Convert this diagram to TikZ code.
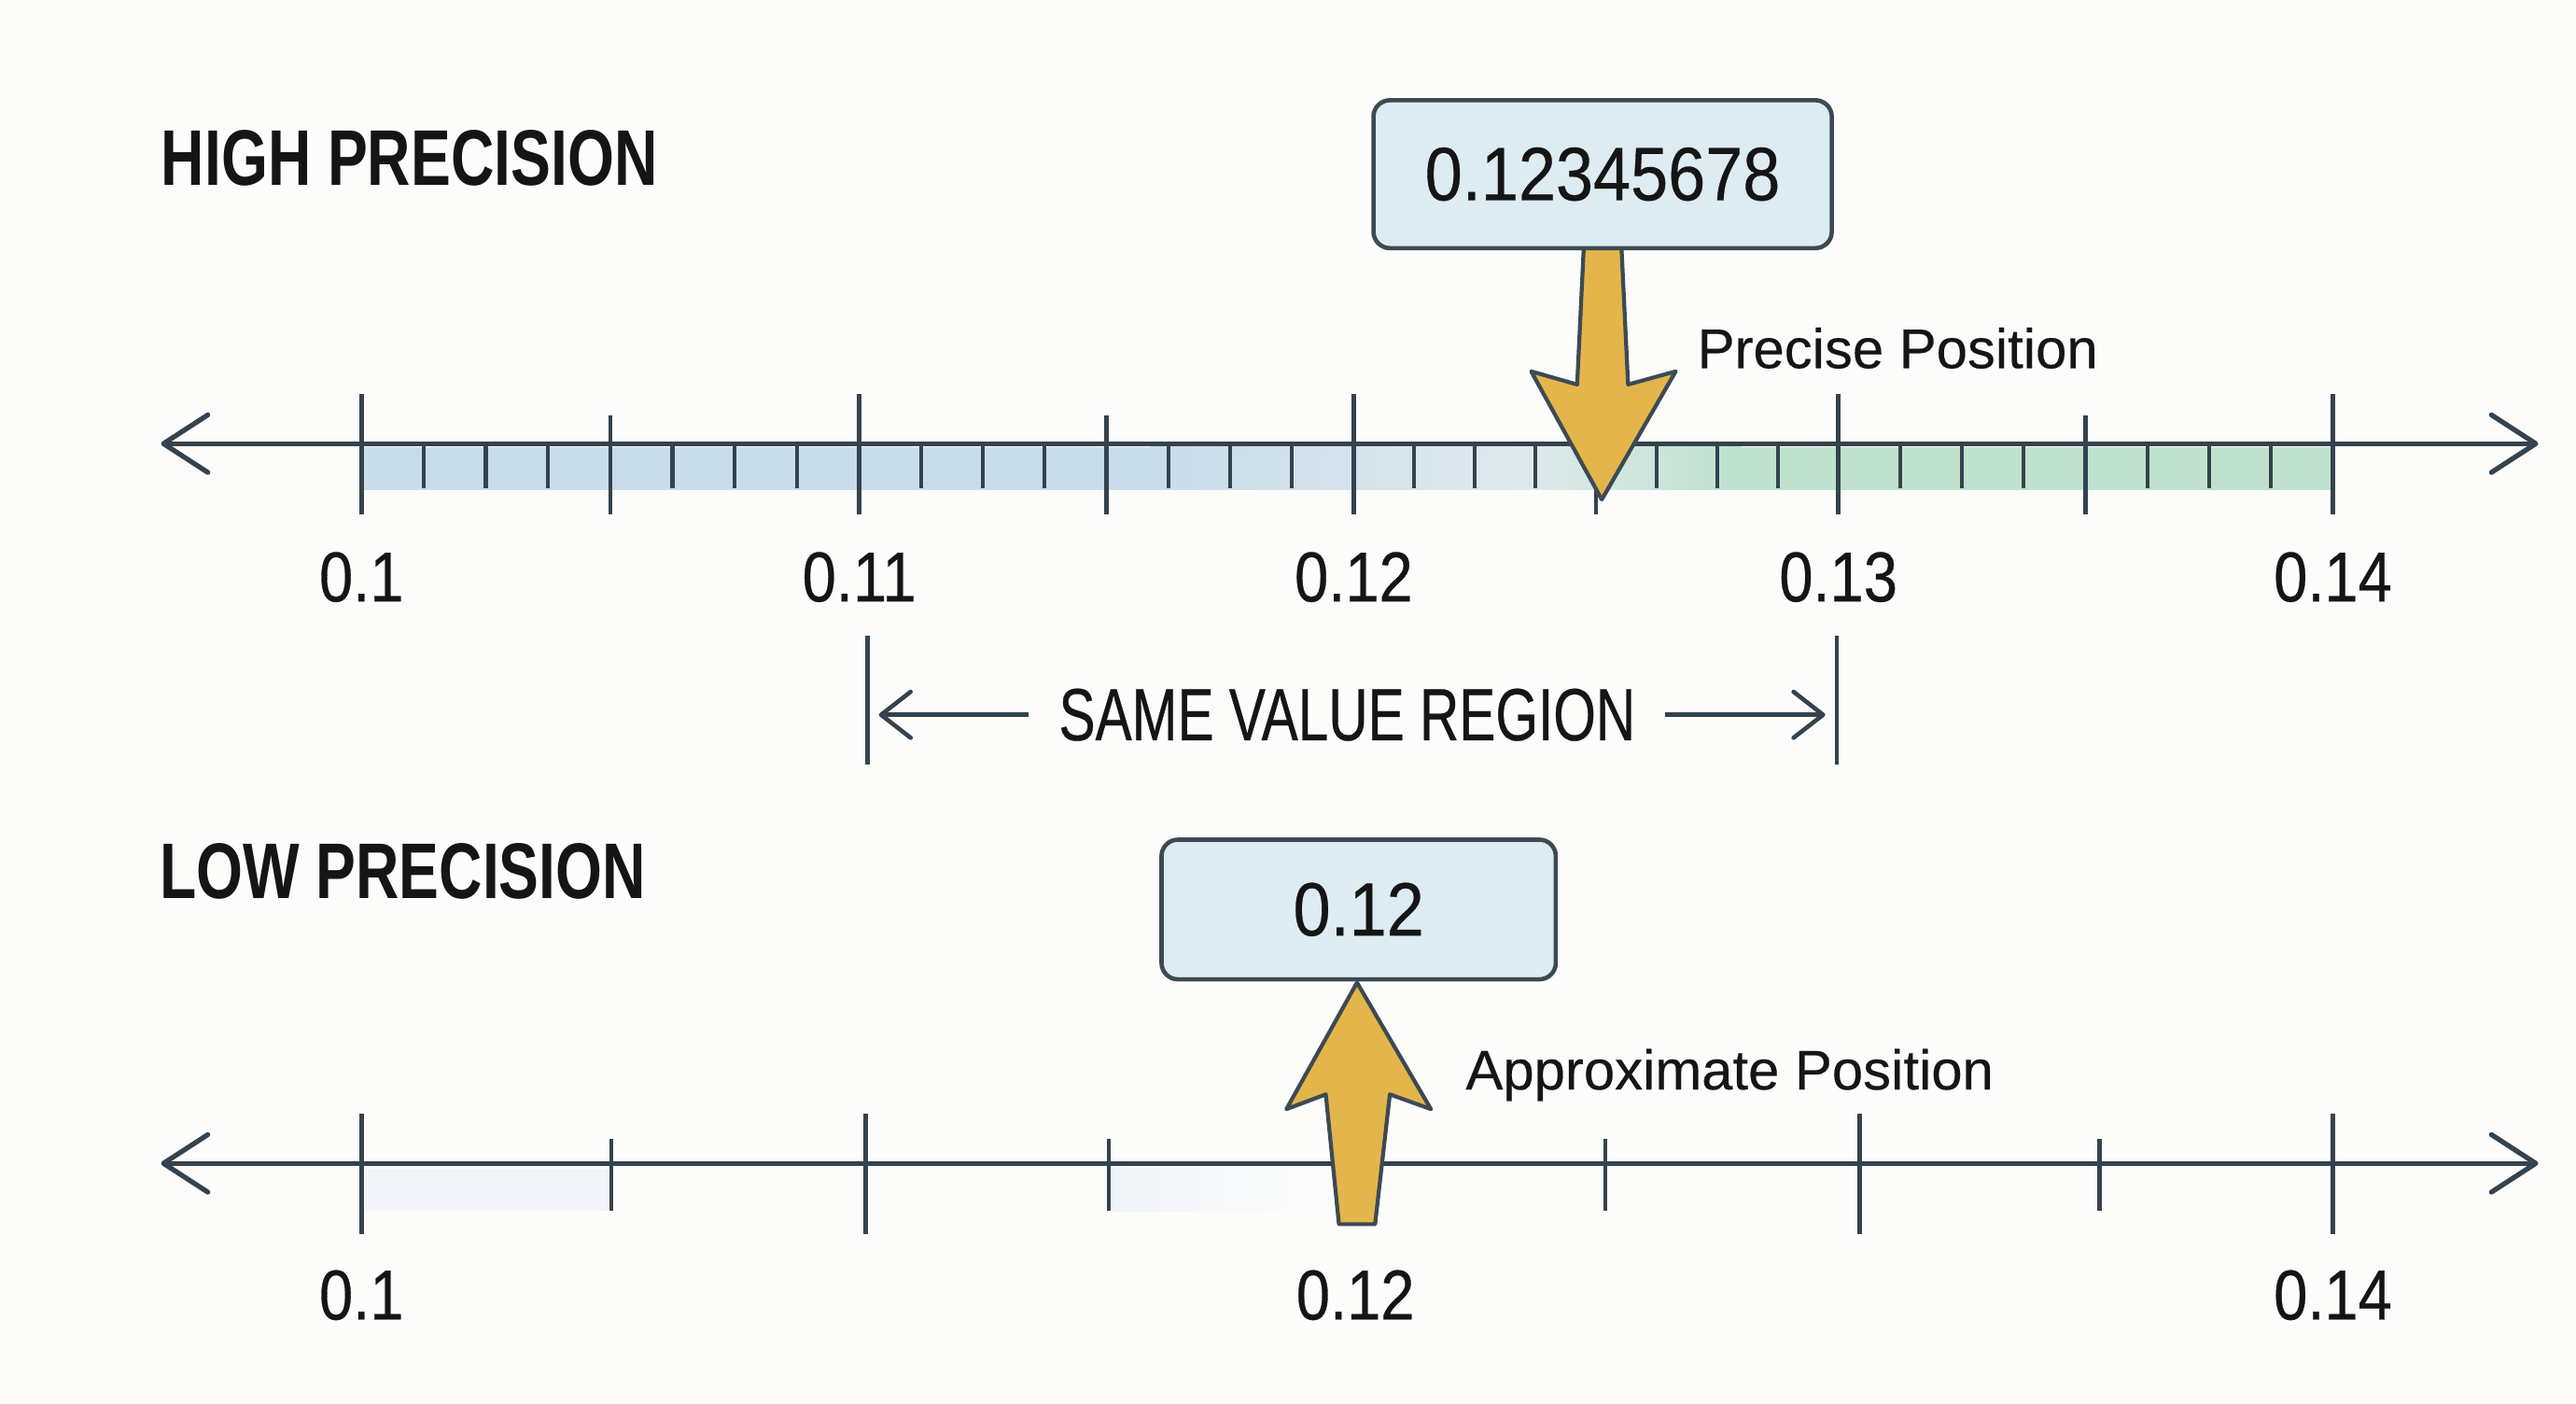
\documentclass[tikz,border=0pt]{standalone}
\usepackage{fontspec}
\setmainfont{Liberation Sans}
\newfontfamily\fAx[FakeStretch=0.86,FakeBold=0.4]{Liberation Sans}
\newfontfamily\fBox[FakeStretch=0.89,FakeBold=0.4]{Liberation Sans}
\newfontfamily\fReg[FakeStretch=0.74,FakeBold=0.4]{Liberation Sans}
\newfontfamily\fHead[FakeStretch=0.76]{Liberation Sans}
\newfontfamily\fNote[FakeBold=0.3]{Liberation Sans}
\usetikzlibrary{arrows.meta,calc}
\definecolor{bgc}{HTML}{FCFCFB}
\definecolor{axisc}{HTML}{34434D}
\definecolor{boxfill}{HTML}{DDEBF3}
\definecolor{boxdraw}{HTML}{3C4A54}
\definecolor{goldc}{HTML}{E4B54A}
\definecolor{bandblue}{HTML}{C9DCEA}
\definecolor{bandmid}{HTML}{DEE9EC}
\definecolor{bandgreen}{HTML}{BFE1CE}
\definecolor{faintc}{HTML}{F1F5F9}
\definecolor{txtc}{HTML}{151515}
\begin{document}
\begin{tikzpicture}[x=1pt,y=-1pt,
  axisline/.style={draw=axisc,line width=3pt,
    {Straight Barb[length=27pt,width=35pt,round]}-{Straight Barb[length=27pt,width=35pt,round]}},
  majtick/.style={draw=axisc,line width=2.6pt},
  midtick/.style={draw=axisc,line width=2.4pt},
  mintick/.style={draw=axisc,line width=2.4pt},
  axlab/.style={inner sep=0pt,anchor=base,text=txtc,font=\fAx\fontsize{43}{50}\selectfont},
  valbox/.style={draw=boxdraw,fill=boxfill,line width=2.6pt,rounded corners=10pt,
    text=txtc,font=\fBox\fontsize{46}{52}\selectfont},
  goldarrow/.style={fill=goldc,draw=boxdraw,line width=2.4pt,line join=round},
  head/.style={inner sep=0pt,anchor=base west,text=txtc,font=\fHead\bfseries\fontsize{48}{54}\selectfont},
  note/.style={inner sep=0pt,anchor=base west,text=txtc,font=\fNote\fontsize{34}{40}\selectfont},
  regarr/.style={draw=axisc,line width=2.6pt,-{Straight Barb[length=18pt,width=28pt,round]}},
  regbar/.style={draw=axisc,line width=2.4pt}
]
\fill[bgc] (0,0) rectangle (1568,854);
\useasboundingbox (0,0) rectangle (1568,854);

% ---------- HIGH PRECISION ----------
\node[head] (hhead) at (98,113) {HIGH PRECISION};

% band
\fill[bandblue] (220,272) rectangle (700,298);
\shade[left color=bandblue,right color=bandmid] (700,272) rectangle (930,298);
\shade[left color=bandmid,right color=bandgreen] (930,272) rectangle (1060,298);
\fill[bandgreen] (1060,272) rectangle (1420,298);

% axis
\coordinate (hL) at (98,270);
\coordinate (hR) at (1545,270);
\draw[axisline] (hL) -- (hR);

\foreach \a/\b in {220/523,523/824,824/1119,1119/1420}{
  \foreach \k in {1,2,3,5,6,7}{
    \pgfmathsetmacro\xx{\a+(\b-\a)*\k/8}
    \draw[mintick] (\xx,270) -- (\xx,297);
  }
  \pgfmathsetmacro\xm{(\a+\b)/2}
  \draw[midtick] (\xm,253) -- (\xm,313);
}
\foreach \x in {220,523,824,1119,1420}{
  \draw[majtick] (\x,240) -- (\x,313);
}

\node[axlab] (h1) at (220,366) {0.1};
\node[axlab] (h2) at (523,366) {0.11};
\node[axlab] (h3) at (824,366) {0.12};
\node[axlab] (h4) at (1119,366) {0.13};
\node[axlab] (h5) at (1420,366) {0.14};

% value box and arrow
\coordinate (hT) at (975,304);
\coordinate (hS) at (975.5,151);
\filldraw[goldarrow] ($(hS)+(-11.5,0)$) -- (960,234) -- (932,226) -- (hT)
  -- (1020,226) -- (991,234) -- ($(hS)+(11.5,0)$) -- cycle;
\node[valbox,minimum width=279pt,minimum height=90pt] (hbox) at (975.5,106) {0.12345678};
\node[note] (hnote) at (1033,224) {Precise Position};

% same value region
\coordinate (rb1t) at (528,387); \coordinate (rb1b) at (528,465);
\coordinate (rb2t) at (1118,387); \coordinate (rb2b) at (1118,465);
\draw[regbar] (rb1t) -- (rb1b);
\draw[regbar] (rb2t) -- (rb2b);
\node[inner xsep=18pt,inner ysep=0pt,text=txtc,font=\fReg\fontsize{45}{50}\selectfont] (reg) at (820,435) {SAME VALUE REGION};
\coordinate (regL) at (535,435);
\coordinate (regR) at (1111,435);
\draw[regarr] (reg.west) -- (regL);
\draw[regarr] (reg.east) -- (regR);

% ---------- LOW PRECISION ----------
\node[head] (lhead) at (97,547) {LOW PRECISION};

\fill[faintc] (222,711) rectangle (372,737);
\shade[left color=faintc,right color=bgc] (677,711) rectangle (810,737);

\coordinate (lL) at (98,708);
\coordinate (lR) at (1545,708);
\draw[axisline] (lL) -- (lR);
\foreach \x in {220,527,1132,1420}{
  \draw[majtick] (\x,678) -- (\x,751);
}
\foreach \x in {372,675,977,1278}{
  \draw[midtick] (\x,693) -- (\x,737);
}
\node[axlab] (l1) at (220,803) {0.1};
\node[axlab] (l2) at (825,803) {0.12};
\node[axlab] (l3) at (1420,803) {0.14};

\node[valbox,minimum width=240pt,minimum height=85pt] (lbox) at (827,553.5) {0.12};
\coordinate (lT) at (826,598);
\filldraw[goldarrow] (lT) -- (783,675) -- (807,666) -- (815,745) -- (837,745)
  -- (846,666) -- (871,675) -- cycle;
\node[note] (lnote) at (892,663) {Approximate Position};
\end{tikzpicture}
\end{document}
